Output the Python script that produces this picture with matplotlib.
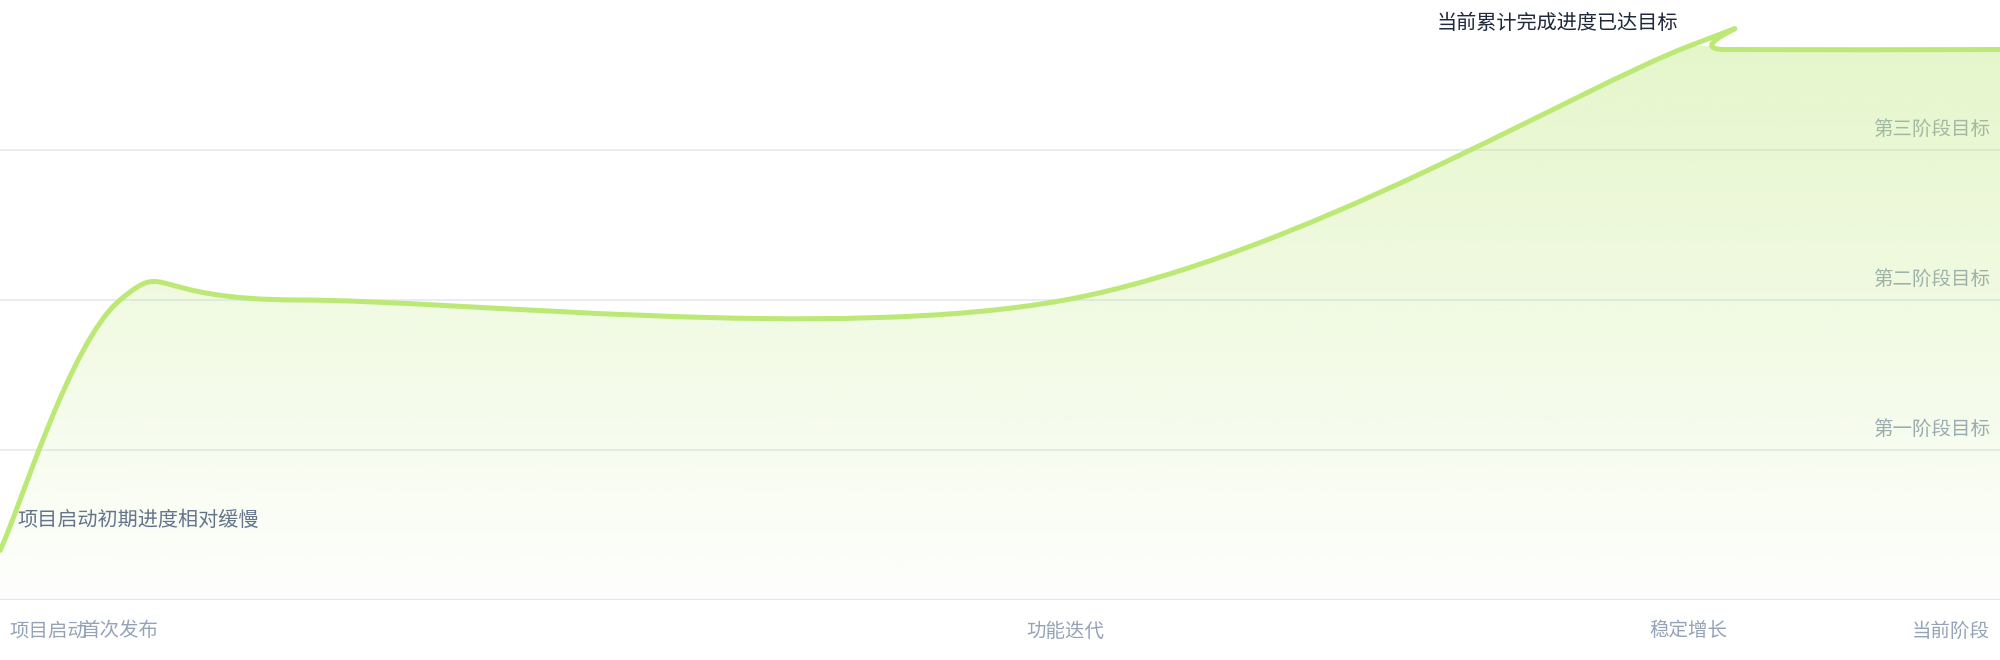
import numpy as np
import matplotlib
matplotlib.use('Agg')
import matplotlib.pyplot as plt
from matplotlib.path import Path
from matplotlib.patches import PathPatch

plt.rcParams['font.family'] = ['Noto Sans CJK SC', 'DejaVu Sans']

# data
days = [0, 12, 30, 106.5, 168.8, 172.5, 200]
values = [0.33, 2.0, 2.0, 2.0, 3.69, 3.67, 3.67]

x_tick_pos = [0, 12, 106.5, 168.8, 200]
x_tick_labels = ['项目启动', '首次发布', '功能迭代', '稳定增长', '当前阶段']

y_tick_pos = [1, 2, 3]
y_tick_labels = ['第一阶段目标', '第二阶段目标', '第三阶段目标']

start_note = '项目启动初期进度相对缓慢'
peak_note = '当前累计完成进度已达目标'

line_color = '#bce876'
grid_color = '#e2e8f0'


def cardinal_path(xs, ys, k=1.0 / 6):
    """d3 style cardinal spline (tension 0) as bezier path"""
    pts = np.column_stack([xs, ys]).astype(float)
    n = len(pts)
    verts = [pts[0]]
    codes = [Path.MOVETO]
    for i in range(n - 1):
        p0 = pts[i - 1] if i > 0 else pts[i]
        p1 = pts[i]
        p2 = pts[i + 1]
        p3 = pts[i + 2] if i + 2 < n else pts[i + 1]
        c1 = p1 + k * (p2 - p0)
        c2 = p2 - k * (p3 - p1)
        verts += [c1, c2, p2]
        codes += [Path.CURVE4] * 3
    return verts, codes


fig = plt.figure(figsize=(20, 6.6), dpi=100)
ax = fig.add_axes([0, 60 / 660, 1, 600 / 660])
ax.set_xlim(0, 200)
ax.set_ylim(0, 4)
ax.axis('off')

# grid
for yv in y_tick_pos:
    ax.axhline(yv, color=grid_color, lw=1.1, zorder=1)
ax.axhline(0, color=grid_color, lw=1.6, zorder=1)

# y labels (under the fill)
for yv, lab in zip(y_tick_pos, y_tick_labels):
    ax.annotate(lab, (1, yv), xycoords=('axes fraction', 'data'),
                xytext=(-10, 21), textcoords='offset pixels',
                ha='right', va='center', fontsize=14, color='#94a3b8', zorder=1.5)

verts, codes = cardinal_path(days, values)

# area fill with vertical gradient
fill_verts = verts + [(days[-1], 0), (days[0], 0), verts[0]]
fill_codes = codes + [Path.LINETO, Path.LINETO, Path.CLOSEPOLY]
fill_patch = PathPatch(Path(fill_verts, fill_codes), facecolor='none', edgecolor='none')
ax.add_patch(fill_patch)

top = max(values)
grad = np.zeros((256, 1, 4))
rgb = matplotlib.colors.to_rgb(line_color)
grad[:, 0, :3] = rgb
grad[:, 0, 3] = np.linspace(0.02, 0.38, 256)
img = ax.imshow(grad, extent=[0, 200, 0, top], origin='lower', aspect='auto', zorder=2)
img.set_clip_path(fill_patch)

# line
line_patch = PathPatch(Path(verts, codes), facecolor='none', edgecolor=line_color,
                       lw=3.6, capstyle='round', joinstyle='round', zorder=3)
ax.add_patch(line_patch)

# x labels
for i, (xv, lab) in enumerate(zip(x_tick_pos, x_tick_labels)):
    if i == 0:
        ha, dx = 'left', 9
    elif i == len(x_tick_pos) - 1:
        ha, dx = 'right', -10
    else:
        ha, dx = 'center', 0
    ax.annotate(lab, (xv, 0), xycoords='data', xytext=(dx, -31),
                textcoords='offset pixels', ha=ha, va='center',
                fontsize=14, color='#94a3b8', annotation_clip=False)

# notes
ax.annotate(start_note, (days[0], values[0]), xytext=(17, 30),
            textcoords='offset pixels', ha='left', va='center',
            fontsize=14.5, color='#64748b', zorder=4)
ax.annotate(peak_note, (days[4], values[4]), xytext=(-10, 23),
            textcoords='offset pixels', ha='right', va='center',
            fontsize=14.5, color='#1e293b', zorder=4, annotation_clip=False)

fig.savefig('out.png', dpi=100, facecolor='white')
